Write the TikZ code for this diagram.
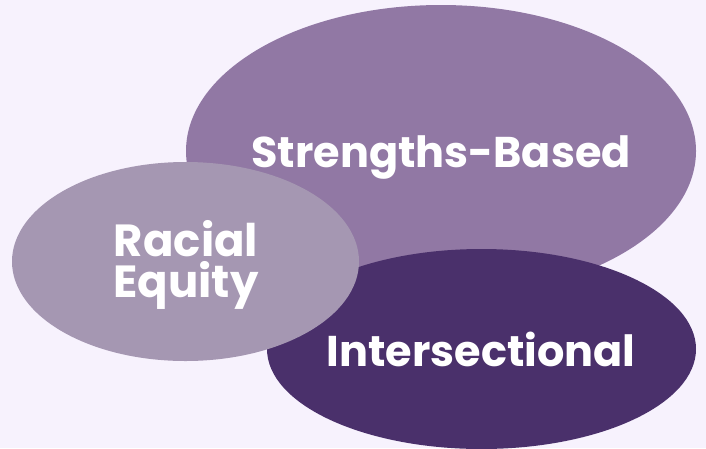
\documentclass[tikz,border=0pt]{standalone}
\usepackage{fontspec}
\setmainfont{Poppins}[BoldFont={* Bold}]
\definecolor{bgc}{HTML}{F7F2FD}
\definecolor{strc}{HTML}{9178A4}
\definecolor{racc}{HTML}{A597B2}
\definecolor{intc}{HTML}{4A306B}
\tikzset{
  blob/.style={ellipse, inner sep=0pt},
  lbl/.style={text=white, font=\bfseries\fontsize{43}{43}\selectfont, align=center},
  lblr/.style={text=white, font=\bfseries\fontsize{45}{45}\selectfont, align=center}
}
\begin{document}
\begin{tikzpicture}[x=1pt,y=-1pt]
\fill[bgc] (0,0) rectangle (706,448);
\useasboundingbox (0,0) rectangle (706,448);
\fill[strc] (441,151) ellipse [x radius=255, y radius=146];
\fill[intc] (481.5,349) ellipse [x radius=214.5, y radius=100];
\fill[racc] (185.5,261.5) ellipse [x radius=173.5, y radius=99.5];
\node[lbl, anchor=base] (s) at (441,167) {Strengths-Based};
\node[lbl, anchor=base] (i) at (481,366) {Intersectional};
\node[lblr, anchor=base] (r1) at (186,256) {Racial};
\node[lblr, anchor=base] (r2) at (186,297) {Equity};
\end{tikzpicture}
\end{document}
